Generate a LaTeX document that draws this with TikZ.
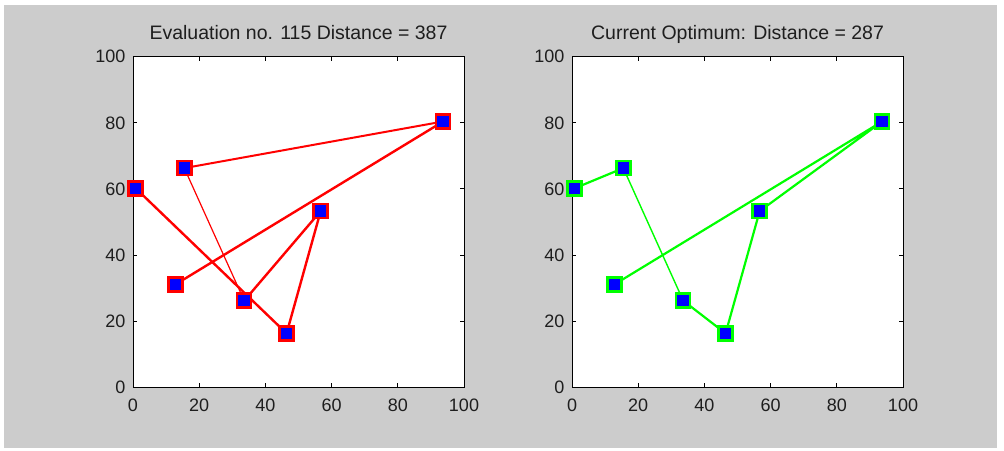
\documentclass[tikz,border=0pt]{standalone}
\usepackage{fontspec}
\setmainfont{Liberation Sans}
\usetikzlibrary{positioning}
\definecolor{figgray}{RGB}{204,204,204}
\definecolor{tourred}{RGB}{255,0,0}
\definecolor{tourgreen}{RGB}{0,255,0}
\definecolor{cityblue}{RGB}{0,0,255}
\definecolor{labelgray}{RGB}{30,30,30}

\begin{document}
\begin{tikzpicture}[
	x=1pt, y=1pt,
	axisbox/.style={draw=black, line width=0.9pt, fill=white},
	axistick/.style={line width=0.9pt},
	ticklabel/.style={inner sep=0pt, font=\fontsize{18}{20}\selectfont, text=labelgray},
	plottitle/.style={inner sep=0pt, anchor=base, font=\fontsize{19.5}{22}\selectfont, text=labelgray},
	city/.style={draw=#1, line width=2.5pt, fill=cityblue, minimum size=14pt, inner sep=0pt},
	tour/.style={draw=#1, line width=2.4pt, line join=round},
	]

	\useasboundingbox (0,0) rectangle (1004,450);
	\fill[white] (0,0) rectangle (1004,450);
	\fill[figgray] (4,2) rectangle (997,445);

	% left axes: tour under evaluation
	\begin{scope}[shift={(133,62.7)}, x=3.31pt, y=3.306pt]
		\draw[axisbox] (0,0) rectangle (100,100);
		\foreach \v in {20,40,60,80} {
			\draw[axistick] (\v,0) -- ++(0,4pt) (\v,100) -- ++(0,-4pt)
				(0,\v) -- ++(4pt,0) (100,\v) -- ++(-4pt,0);
		}
		\foreach \v in {0,20,...,100} {
			\node[ticklabel, anchor=north, yshift=-11pt] (evx\v) at (\v,0) {\v};
			\node[ticklabel, anchor=east, xshift=-7.5pt] (evy\v) at (0,\v) {\v};
		}
		\node[plottitle] (evtitle) at (50,105.1) {Evaluation no. 115 Distance = 387};

		\coordinate (evA) at (0.8,60.2);
		\coordinate (evB) at (15.5,66.3);
		\coordinate (evC) at (93.7,80.4);
		\coordinate (evD) at (56.7,53.3);
		\coordinate (evE) at (12.8,31.1);
		\coordinate (evF) at (33.6,26.2);
		\coordinate (evG) at (46.4,16.3);

		\draw[tour=tourred] (evA) -- (evG) -- (evD) -- (evF);
		\draw[tour=tourred, line width=1.2pt] (evF) -- (evB);
		\draw[tour=tourred, line width=2pt] (evB) -- (evC);
		\draw[tour=tourred] (evC) -- (evE);

		\foreach \c in {evA,evB,evC,evD,evE,evF,evG}
			\node[city=tourred] (\c box) at (\c) {};
	\end{scope}

	% right axes: best tour so far
	\begin{scope}[shift={(572,62.7)}, x=3.31pt, y=3.306pt]
		\draw[axisbox] (0,0) rectangle (100,100);
		\foreach \v in {20,40,60,80} {
			\draw[axistick] (\v,0) -- ++(0,4pt) (\v,100) -- ++(0,-4pt)
				(0,\v) -- ++(4pt,0) (100,\v) -- ++(-4pt,0);
		}
		\foreach \v in {0,20,...,100} {
			\node[ticklabel, anchor=north, yshift=-11pt] (optx\v) at (\v,0) {\v};
			\node[ticklabel, anchor=east, xshift=-7.5pt] (opty\v) at (0,\v) {\v};
		}
		\node[plottitle] (opttitle) at (50,105.1) {Current Optimum: Distance = 287};

		\coordinate (optA) at (0.8,60.2);
		\coordinate (optB) at (15.5,66.3);
		\coordinate (optC) at (93.7,80.4);
		\coordinate (optD) at (56.7,53.3);
		\coordinate (optE) at (12.8,31.1);
		\coordinate (optF) at (33.6,26.2);
		\coordinate (optG) at (46.4,16.3);

		\draw[tour=tourgreen, line width=2.2pt] (optA) -- (optB);
		\draw[tour=tourgreen, line width=1.4pt] (optB) -- (optF);
		\draw[tour=tourgreen, line width=2.2pt] (optF) -- (optG) -- (optD) -- (optC) -- (optE);

		\foreach \c in {optA,optB,optC,optD,optE,optF,optG}
			\node[city=tourgreen] (\c box) at (\c) {};
	\end{scope}

\end{tikzpicture}
\end{document}
